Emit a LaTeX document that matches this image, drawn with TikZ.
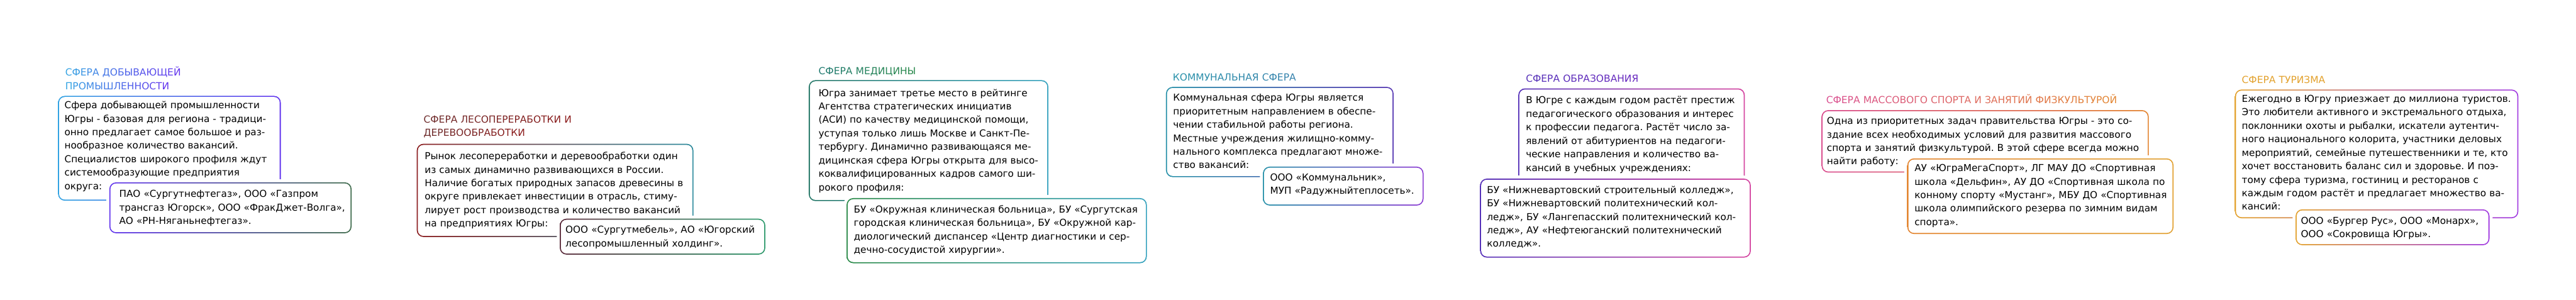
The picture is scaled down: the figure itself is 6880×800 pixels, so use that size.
\documentclass[tikz,border=0pt]{standalone}
\usepackage{fontspec}
\setmainfont{DejaVu Sans}
\usetikzlibrary{calc}
\frenchspacing

\definecolor{c1a}{HTML}{33A3E3}
\definecolor{c1b}{HTML}{6336EE}
\definecolor{c1c}{HTML}{3F6B4C}
\definecolor{c2a}{HTML}{8A1C1E}
\definecolor{c2b}{HTML}{2C8A9C}
\definecolor{c2c}{HTML}{5A2A3A}
\definecolor{c2d}{HTML}{2E9A6C}
\definecolor{c2t}{HTML}{6E2C2C}
\definecolor{c2u}{HTML}{8C1C1C}
\definecolor{c3a}{HTML}{267868}
\definecolor{c3b}{HTML}{3A9A58}
\definecolor{c3c}{HTML}{35A2BE}
\definecolor{c3d}{HTML}{2A8A48}
\definecolor{c3t}{HTML}{1F7A70}
\definecolor{c3u}{HTML}{2B8A4E}
\definecolor{c4a}{HTML}{2A92AA}
\definecolor{c4b}{HTML}{5A3CB4}
\definecolor{c4c}{HTML}{8E40D4}
\definecolor{c5a}{HTML}{5530B8}
\definecolor{c5b}{HTML}{D444A0}
\definecolor{c5t}{HTML}{6A2BC0}
\definecolor{c6a}{HTML}{DA4F8F}
\definecolor{c6b}{HTML}{E38632}
\definecolor{c6c}{HTML}{E2A234}
\definecolor{c7a}{HTML}{E3A22E}
\definecolor{c7b}{HTML}{A33EE2}

\makeatletter
\newcount\gt@n \newcount\gt@i \newcount\gt@p
\def\gradtext#1#2#3{{\def\gt@a{#1}\def\gt@b{#2}\gt@n=0 \gt@count#3\@nil
  \advance\gt@n-1 \ifnum\gt@n<1 \gt@n=1 \fi
  \gt@i=0 \gt@do#3\@nil}}
\def\gt@count#1{\ifx#1\@nil\else\advance\gt@n1 \expandafter\gt@count\fi}
\def\gt@do#1{\ifx#1\@nil\else
  \gt@p=\numexpr100*\gt@i/\gt@n\relax
  {\color{\gt@b!\the\gt@p!\gt@a}#1}\advance\gt@i1 \expandafter\gt@do\fi}
\makeatother

\newcommand\ringbox[5]{%
  \shade[#5, rounded corners=9pt] (#1,#2) rectangle (#3,#4);
  \fill[white, rounded corners=7.5pt] ($(#1,#2)+(3,3)$) rectangle ($(#3,#4)+(-3,-3)$);}
\newcommand\halobox[4]{%
  \fill[white, rounded corners=13pt] ($(#1,#2)+(-8,-8)$) rectangle ($(#3,#4)+(8,8)$);}

\tikzset{
  ttl/.style={anchor=base west, inner sep=0pt, text width=#1, align=left,
    font=\fontsize{13pt}{18pt}\selectfont},
  body/.style={anchor=base west, inner sep=0pt, text width=#1, align=left,
    font=\fontsize{12.8pt}{18pt}\selectfont, text=black},
}

\begin{document}
\begin{tikzpicture}[x=0.5pt,y=-0.5pt]
\useasboundingbox (0,0) rectangle (6880,800);
\fill[white] (0,0) rectangle (6880,800);

% ---------- 1: mining ----------
\ringbox{155}{256}{750}{536}{left color=c1a, middle color=c1b, right color=c1b}
\node[body=300pt] (m1) at (172,290) {Сфера добывающей промышленности\\Югры - базовая для региона - традици-\\онно предлагает самое большое и раз-\\нообразное количество вакансий.\\Специалистов широкого профиля ждут\\системообразующие предприятия\\округа:};
\halobox{292}{487}{939}{623}
\ringbox{292}{487}{939}{623}{left color=c1b, right color=c1c}
\node[body=320pt] (s1) at (318,527) {ПАО «Сургутнефтегаз», ООО «Газпром\\трансгаз Югорск», ООО «ФракДжет-Волга»,\\АО «РН-Няганьнефтегаз».};
\node[ttl=300pt] (h1) at (174,203) {\gradtext{c1a}{c1b}{СФЕРА~ДОБЫВАЮЩЕЙ}\\\gradtext{c1a}{c1b}{ПРОМЫШЛЕННОСТИ}};

% ---------- 2: forestry ----------
\ringbox{1113}{384}{1852}{633}{left color=c2a, right color=c2b}
\node[body=370pt] (m2) at (1134,426) {Рынок лесопереработки и деревообработки один\\из самых динамично развивающихся в России.\\Наличие богатых природных запасов древесины в\\округе привлекает инвестиции в отрасль, стиму-\\лирует рост производства и количество вакансий\\на предприятиях Югры:};
\halobox{1495}{584}{2044}{680}
\ringbox{1495}{584}{2044}{680}{left color=c2c, right color=c2d}
\node[body=280pt] (s2) at (1510,623) {ООО «Сургутмебель», АО «Югорский\\лесопромышленный холдинг».};
\node[ttl=380pt] (h2) at (1131,328) {\gradtext{c2t}{c2u}{СФЕРА~ЛЕСОПЕРЕРАБОТКИ~И}\\\gradtext{c2t}{c2u}{ДЕРЕВООБРАБОТКИ}};

% ---------- 3: medicine ----------
\ringbox{2160}{214}{2800}{537}{left color=c3a, middle color=c3b, right color=c3c}
\node[body=320pt] (m3) at (2186,257) {Югра занимает третье место в рейтинге\\Агентства стратегических инициатив\\(АСИ) по качеству медицинской помощи,\\уступая только лишь Москве и Санкт-Пе-\\тербургу. Динамично развивающаяся ме-\\дицинская сфера Югры открыта для высо-\\коквалифицированных кадров самого ши-\\рокого профиля:};
\halobox{2261}{529}{3063}{703}
\ringbox{2261}{529}{3063}{703}{left color=c3d, right color=c3c}
\node[body=400pt] (s3) at (2280,568) {БУ «Окружная клиническая больница», БУ «Сургутская\\городская клиническая больница», БУ «Окружной кар-\\диологический диспансер «Центр диагностики и сер-\\дечно-сосудистой хирургии».};
\node[ttl=300pt] (h3) at (2186,199) {\gradtext{c3t}{c3u}{СФЕРА~МЕДИЦИНЫ}};

% ---------- 4: communal ----------
\ringbox{3114}{232}{3722}{473}{left color=c4a, right color=c4b}
\node[body=305pt] (m4) at (3133,270) {Коммунальная сфера Югры является\\приоритетным направлением в обеспе-\\чении стабильной работы региона.\\Местные учреждения жилищно-комму-\\нального комплекса предлагают множе-\\ство вакансий:};
\halobox{3373}{445}{3802}{549}
\ringbox{3373}{445}{3802}{549}{left color=c4a, right color=c4c}
\node[body=215pt] (s4) at (3392,483) {ООО «Коммунальник»,\\МУП «Радужныйтеплосеть».};
\node[ttl=300pt] (h4) at (3132,215) {\gradtext{c4a}{c4a!80!c4b}{КОММУНАЛЬНАЯ~СФЕРА}};

% ---------- 5: education ----------
\ringbox{4055}{236}{4660}{495}{left color=c5a, right color=c5b}
\node[body=305pt] (m5) at (4075,277) {В Югре с каждым годом растёт престиж\\педагогического образования и интерес\\к профессии педагога. Растёт число за-\\явлений от абитуриентов на педагоги-\\ческие направления и количество ва-\\кансий в учебных учреждениях:};
\halobox{3953}{477}{4676}{688}
\ringbox{3953}{477}{4676}{688}{left color=c5a, right color=c5b}
\node[body=365pt] (s5) at (3971,516) {БУ «Нижневартовский строительный колледж»,\\БУ «Нижневартовский политехнический кол-\\ледж», БУ «Лангепасский политехнический кол-\\ледж», АУ «Нефтеюганский политехнический\\колледж».};
\node[ttl=300pt] (h5) at (4075,220) {\gradtext{c5a}{c5t}{СФЕРА~ОБРАЗОВАНИЯ}};

% ---------- 6: sport ----------
\ringbox{4865}{294}{5739}{461}{left color=c6a, right color=c6b}
\node[body=440pt] (m6) at (4879,332) {Одна из приоритетных задач правительства Югры - это со-\\здание всех необходимых условий для развития массового\\спорта и занятий физкультурой. В этой сфере всегда можно\\найти работу:};
\halobox{5094}{423}{5805}{625}
\ringbox{5094}{423}{5805}{625}{left color=c6b, right color=c6c}
\node[body=355pt] (s6) at (5113,458) {АУ «ЮграМегаСпорт», ЛГ МАУ ДО «Спортивная\\школа «Дельфин», АУ ДО «Спортивная школа по\\конному спорту «Мустанг», МБУ ДО «Спортивная\\школа олимпийского резерва по зимним видам\\спорта».};
\node[ttl=450pt] (h6) at (4877,276) {\gradtext{c6a}{c6b}{СФЕРА~МАССОВОГО~СПОРТА~И~ЗАНЯТИЙ~ФИЗКУЛЬТУРОЙ}};

% ---------- 7: tourism ----------
\ringbox{5969}{239}{6726}{583}{left color=c7a, middle color=c7a, right color=c7b}
\node[body=380pt] (m7) at (5987,273) {Ежегодно в Югру приезжает до миллиона туристов.\\Это любители активного и экстремального отдыха,\\поклонники охоты и рыбалки, искатели аутентич-\\ного национального колорита, участники деловых\\мероприятий, семейные путешественники и те, кто\\хочет восстановить баланс сил и здоровье. И поэ-\\тому сфера туризма, гостиниц и ресторанов с\\каждым годом растёт и предлагает множество ва-\\кансий:};
\halobox{6131}{559}{6649}{655}
\ringbox{6131}{559}{6649}{655}{left color=c7a, right color=c7b}
\node[body=260pt] (s7) at (6145,598) {ООО «Бургер Рус», ООО «Монарх»,\\ООО «Сокровища Югры».};
\node[ttl=300pt] (h7) at (5987,223) {\gradtext{c7a}{c7a}{СФЕРА~ТУРИЗМА}};

\end{tikzpicture}
\end{document}
